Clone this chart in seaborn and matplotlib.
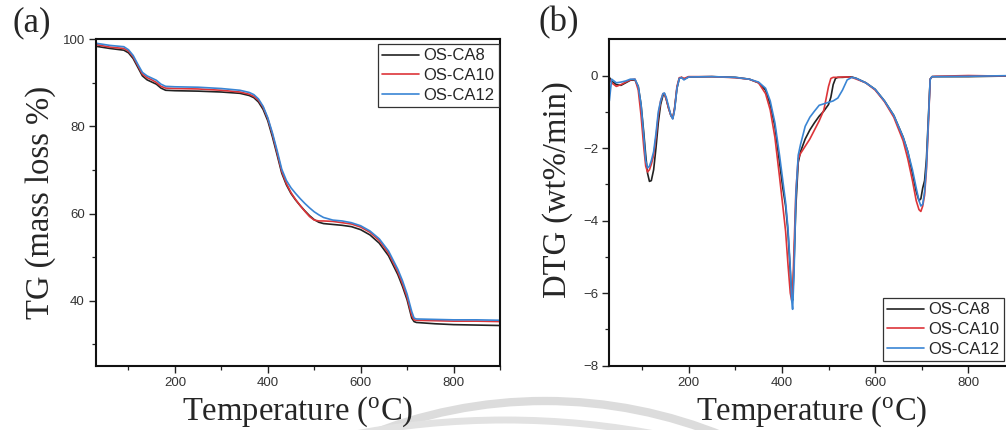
import numpy as np
import pandas as pd
import matplotlib
matplotlib.use("Agg")
import matplotlib.pyplot as plt
from matplotlib.patches import Arc
import seaborn as sns

# ---------------- data ----------------
series_names = ["OS-CA8", "OS-CA10", "OS-CA12"]

tg_temp = [30, 60, 90, 100, 110, 120, 130, 140, 150, 160, 170, 180, 200, 250, 300, 340,
           360, 370, 380, 390, 400, 410, 420, 430, 440, 450, 460, 470, 480, 490, 500, 510,
           520, 540, 560, 580, 600, 620, 640, 660, 680, 690, 700, 710, 715, 720, 760, 800,
           850, 900]
tg_ca8 = [98.4, 97.9, 97.5, 96.9, 95.6, 93.6, 91.6, 90.7, 90.2, 89.7, 88.8, 88.3, 88.2, 88.1,
          87.9, 87.6, 87.1, 86.6, 85.6, 83.9, 81.3, 77.6, 73.5, 69.3, 66.6, 64.6, 63.1, 61.8,
          60.6, 59.5, 58.6, 58.0, 57.7, 57.5, 57.3, 57.0, 56.3, 55.1, 53.2, 50.3, 46.0, 43.3,
          40.2, 36.0, 35.2, 35.0, 34.7, 34.5, 34.4, 34.3]
tg_ca10 = [98.8, 98.2, 97.9, 97.3, 96.0, 94.0, 92.0, 91.2, 90.7, 90.1, 89.2, 88.8, 88.7, 88.6,
           88.3, 87.9, 87.4, 86.9, 86.0, 84.4, 81.8, 78.2, 74.0, 69.7, 66.9, 64.8, 63.2, 61.8,
           60.5, 59.3, 58.5, 58.3, 58.3, 58.2, 57.9, 57.6, 56.9, 55.7, 53.8, 50.9, 46.6, 43.9,
           40.8, 36.6, 35.6, 35.5, 35.4, 35.3, 35.3, 35.2]
tg_ca12 = [99.1, 98.6, 98.3, 97.6, 96.3, 94.3, 92.4, 91.6, 91.1, 90.6, 89.7, 89.2, 89.1, 89.0,
           88.7, 88.3, 87.8, 87.3, 86.3, 84.6, 82.0, 78.5, 74.5, 70.2, 67.6, 65.9, 64.6, 63.4,
           62.3, 61.3, 60.4, 59.7, 59.1, 58.5, 58.3, 57.9, 57.2, 56.0, 54.2, 51.4, 47.2, 44.6,
           41.5, 37.5, 36.0, 35.8, 35.7, 35.6, 35.6, 35.5]

dtg_temp = [30, 35, 45, 55, 65, 75, 85, 92, 98, 104, 108, 112, 116, 120, 125, 130, 135, 140,
            145, 148, 152, 157, 162, 166, 170, 175, 180, 185, 190, 200, 250, 300, 330, 350,
            365, 375, 385, 395, 402, 408, 413, 418, 421, 423, 426, 430, 435, 440, 450, 460,
            470, 480, 490, 500, 505, 510, 515, 520, 530, 540, 550, 560, 580, 600, 620, 640,
            660, 670, 680, 688, 694, 698, 702, 706, 710, 714, 718, 722, 730, 800, 850, 900]
dtg_ca8 = [-0.05, -0.15, -0.25, -0.27, -0.2, -0.13, -0.12, -0.3, -0.8, -1.6, -2.2, -2.7, -2.92,
           -2.9, -2.6, -2.0, -1.3, -0.8, -0.55, -0.5, -0.65, -0.9, -1.1, -1.18, -0.9, -0.35,
           -0.08, -0.05, -0.1, -0.04, -0.03, -0.05, -0.1, -0.2, -0.4, -0.8, -1.4, -2.4, -3.1,
           -3.6, -4.3, -5.4, -6.1, -6.2, -5.2, -3.6, -2.4, -2.1, -1.75, -1.5, -1.3, -1.12,
           -0.98, -0.8, -0.6, -0.25, -0.08, -0.05, -0.05, -0.04, -0.04, -0.08, -0.2, -0.38,
           -0.7, -1.1, -1.7, -2.1, -2.7, -3.2, -3.45, -3.4, -3.1, -2.9, -2.3, -1.2, -0.1,
           -0.03, -0.03, -0.03, -0.02, -0.01]
dtg_ca10 = [-0.1, -0.2, -0.3, -0.25, -0.18, -0.12, -0.1, -0.4, -1.1, -2.0, -2.5, -2.66, -2.6,
            -2.45, -2.2, -1.7, -1.1, -0.7, -0.5, -0.5, -0.65, -0.9, -1.1, -1.18, -0.9, -0.3,
            -0.06, -0.05, -0.08, -0.03, -0.03, -0.06, -0.1, -0.2, -0.5, -0.95, -1.7, -2.8,
            -3.6, -4.3, -5.2, -6.0, -6.2, -6.0, -4.8, -3.2, -2.3, -2.15, -1.95, -1.75, -1.5,
            -1.25, -0.95, -0.3, -0.08, -0.05, -0.05, -0.05, -0.04, -0.04, -0.05, -0.1, -0.2,
            -0.4, -0.72, -1.15, -1.8, -2.3, -2.9, -3.45, -3.7, -3.75, -3.6, -3.3, -2.6, -1.4,
            -0.1, -0.03, -0.02, 0.0, -0.01, -0.01]
dtg_ca12 = [-0.7, -0.1, -0.2, -0.18, -0.15, -0.1, -0.1, -0.3, -0.8, -1.7, -2.35, -2.55, -2.5,
            -2.35, -2.1, -1.6, -1.0, -0.7, -0.5, -0.48, -0.6, -0.85, -1.1, -1.2, -0.95, -0.35,
            -0.08, -0.06, -0.12, -0.04, -0.03, -0.05, -0.1, -0.18, -0.35, -0.7, -1.3, -2.2,
            -2.9, -3.5, -4.2, -5.3, -6.2, -6.45, -5.5, -3.3, -2.2, -1.9, -1.4, -1.15, -0.98,
            -0.82, -0.78, -0.74, -0.72, -0.7, -0.66, -0.62, -0.4, -0.12, -0.05, -0.08, -0.2,
            -0.38, -0.7, -1.1, -1.7, -2.1, -2.6, -3.1, -3.45, -3.6, -3.55, -3.2, -2.5, -1.3,
            -0.1, -0.03, -0.03, -0.02, -0.01, 0.0]

# ---------------- style ----------------
sns.set_theme(style="ticks")
plt.rcParams["font.family"] = ["Liberation Sans", "DejaVu Sans"]
plt.rcParams["mathtext.fontset"] = "custom"
plt.rcParams["mathtext.rm"] = "Liberation Serif"
plt.rcParams["mathtext.it"] = "Liberation Serif:italic"

colors = ["#222222", "#dd3539", "#3a85d4"]
palette = dict(zip(series_names, colors))
serif = ["Liberation Serif", "DejaVu Serif"]
label_size = 23.5
tick_color = "#333333"

tg_df = pd.DataFrame({
    "Temperature": tg_temp * 3,
    "value": tg_ca8 + tg_ca10 + tg_ca12,
    "sample": sum([[n] * len(tg_temp) for n in series_names], []),
})
dtg_df = pd.DataFrame({
    "Temperature": dtg_temp * 3,
    "value": dtg_ca8 + dtg_ca10 + dtg_ca12,
    "sample": sum([[n] * len(dtg_temp) for n in series_names], []),
})

fig = plt.figure(figsize=(10.06, 4.30), dpi=100)

# faint watermark arcs (background decoration of the source image)
wax = fig.add_axes([0, 0, 1, 1], zorder=-1)
wax.set_xlim(0, 1006)
wax.set_ylim(430, 0)
wax.axis("off")
wax.add_patch(Arc((545, 872), 942, 942, theta1=180, theta2=360,
                  color="#dcdcdc", lw=6))
wax.add_patch(Arc((505, 1230), 1620, 1620, theta1=180, theta2=360,
                  color="#e2e2e2", lw=5))

ax1 = fig.add_axes([0.0954, 0.1488, 0.4016, 0.7598])
ax2 = fig.add_axes([0.6057, 0.150, 0.4033, 0.7586])
for ax in (ax1, ax2):
    ax.patch.set_alpha(0)

for ax, df in [(ax1, tg_df), (ax2, dtg_df)]:
    sns.lineplot(data=df, x="Temperature", y="value", hue="sample",
                 hue_order=series_names, palette=palette, estimator=None,
                 sort=False, linewidth=1.2, ax=ax, legend=True)

xlab = r"Temperature ($^{\mathrm{o}}$C)"

# ---- axes (a)
ax1.set_xlim(30, 900)
ax1.set_ylim(25, 100)
ax1.set_xticks([200, 400, 600, 800])
ax1.set_xticks([100, 300, 500, 700, 900], minor=True)
ax1.set_yticks([40, 60, 80, 100])
ax1.set_yticks([30, 50, 70, 90], minor=True)
ax1.set_xlabel(xlab, family=serif, fontsize=label_size, labelpad=4)
ax1.set_ylabel("TG (mass loss %)", family=serif, fontsize=label_size, labelpad=5)

# ---- axes (b)
ax2.set_xlim(30, 900)
ax2.set_ylim(-8, 1)
ax2.set_xticks([200, 400, 600, 800])
ax2.set_xticks([100, 300, 500, 700, 900], minor=True)
ax2.set_yticks([-8, -6, -4, -2, 0])
ax2.set_yticks([-7, -5, -3, -1], minor=True)
ax2.set_xlabel(xlab, family=serif, fontsize=label_size, labelpad=4)
ax2.set_ylabel("DTG (wt%/min)", family=serif, fontsize=label_size)
ax2.yaxis.set_label_coords(-0.09, 0.538)

for ax in (ax1, ax2):
    for s in ax.spines.values():
        s.set_visible(True)
        s.set_linewidth(1.5)
        s.set_color("#111111")
    ax.tick_params(which="major", direction="out", length=5, width=1.0,
                   labelsize=9.5, labelcolor=tick_color, color="#222222", pad=3)
    ax.tick_params(which="minor", direction="out", length=3, width=0.9, color="#222222")
    ax.grid(False)

leg_kw = dict(frameon=True, fancybox=False, fontsize=12, handlelength=2.25,
              handletextpad=0.25, labelspacing=0.28, borderpad=0.25,
              borderaxespad=0.0, title=None)
h1, l1 = ax1.get_legend_handles_labels()
leg1 = ax1.legend(h1, l1, loc="upper left", bbox_to_anchor=(0.697, 0.985), **leg_kw)
h2, l2 = ax2.get_legend_handles_labels()
leg2 = ax2.legend(h2, l2, loc="lower left", bbox_to_anchor=(0.674, 0.014), **leg_kw)
for leg in (leg1, leg2):
    leg.get_frame().set_edgecolor("#333333")
    leg.get_frame().set_linewidth(0.9)
    leg.get_frame().set_alpha(1)

# panel labels
fig.text(12 / 1006, 1 - 6 / 430, "(a)", family=serif, fontsize=25, va="top", ha="left")
fig.text(538 / 1006, 1 - 6 / 430, "(b)", family=serif, fontsize=25, va="top", ha="left")

fig.savefig("out.png", dpi=100)
